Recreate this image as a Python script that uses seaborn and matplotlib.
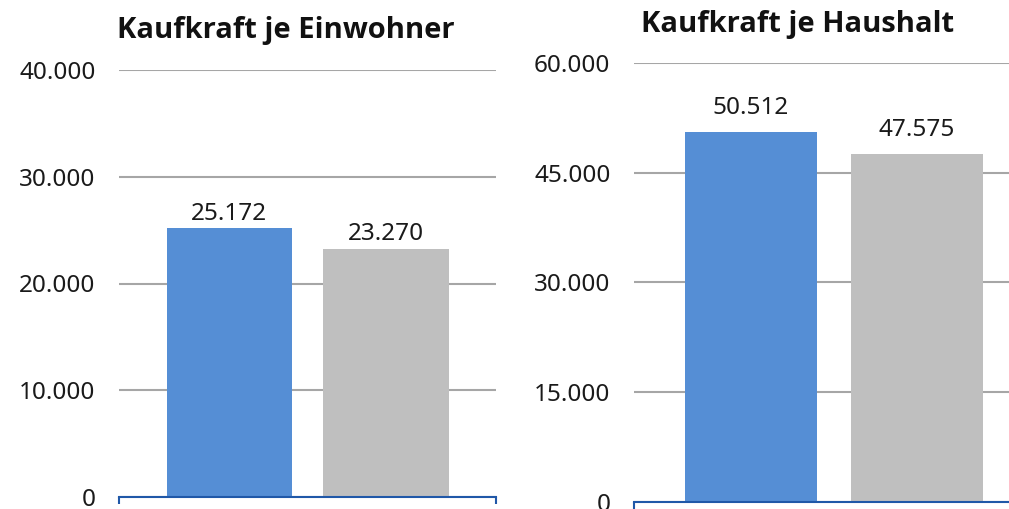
import matplotlib
matplotlib.use("Agg")
import matplotlib.pyplot as plt
import seaborn as sns

# data
series = ["Standort", "Vergleich"]
colors = ["#558ED5", "#BFBFBF"]
einwohner = [25172, 23270]
haushalt = [50512, 47575]
ticks_einwohner = [0, 10000, 20000, 30000, 40000]
ticks_haushalt = [0, 15000, 30000, 45000, 60000]

sns.set_theme(style="white")
plt.rcParams["font.family"] = ["Noto Sans", "DejaVu Sans"]

W, H = 1009, 509


def fmt(v):
    return f"{v:,.0f}".replace(",", ".")


def panel(rect, values, ticks, xlim, label_pad, label_offset):
    ax = fig.add_axes(rect)
    sns.barplot(x=series, y=values, hue=series, palette=colors, width=0.8,
                legend=False, saturation=1, linewidth=0, ax=ax)
    ax.set_ylim(ticks[0], ticks[-1])
    ax.set_xlim(*xlim)
    ax.set_yticks(ticks)
    ax.set_yticklabels([fmt(t) for t in ticks], fontsize=17.5, color="#1a1a1a")
    ax.tick_params(axis="y", length=0, pad=label_pad)
    ax.set_xticks(list(xlim))
    ax.set_xticklabels([])
    ax.tick_params(axis="x", bottom=True, length=5, width=1.5, color="#2058A8",
                   direction="out")
    ax.yaxis.grid(True, color="#A6A6A6", linewidth=1.5)
    ax.set_axisbelow(True)
    for s in ["left", "right", "top"]:
        ax.spines[s].set_visible(False)
    ax.spines["bottom"].set_color("#2058A8")
    ax.spines["bottom"].set_linewidth(1.5)
    ax.set_xlabel("")
    ax.set_ylabel("")
    for i, v in enumerate(values):
        ax.annotate(fmt(v), (i, v), xytext=(0, label_offset), textcoords="offset points",
                    ha="center", va="baseline", fontsize=17.5, color="#1a1a1a")
    return ax


fig = plt.figure(figsize=(W / 100, H / 100), dpi=100)
fig.patch.set_facecolor("white")

# left panel: axis x 119..496 px, y 0 at 497 px, 40.000 at 70 px
panel([119 / W, (H - 497) / H, (496 - 119) / W, (497 - 70) / H],
      einwohner, ticks_einwohner, (-0.704, 1.702), 17, 6)
# right panel: axis from 634 px, runs past the right edge; 0 at 502 px, 60.000 at 63 px
panel([634 / W, (H - 502) / H, (1034 - 634) / W, (502 - 63) / H],
      haushalt, ticks_haushalt, (-0.705, 1.705), 17, 13)

title_font = ["Open Sans", "Lato", "DejaVu Sans"]
fig.text(286 / W, 1 - 38 / H, "Kaufkraft je Einwohner", ha="center", va="baseline",
         fontsize=21, fontweight="bold", family=title_font, color="#111111")
fig.text(798 / W, 1 - 32 / H, "Kaufkraft je Haushalt", ha="center", va="baseline",
         fontsize=21, fontweight="bold", family=title_font, color="#111111")

fig.savefig("out.png", dpi=100, facecolor="white")
